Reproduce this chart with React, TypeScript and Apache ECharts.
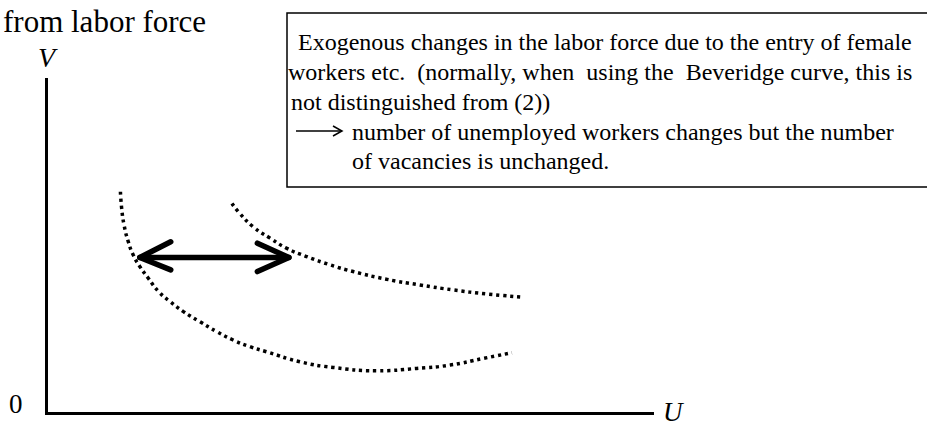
import React, { useEffect, useRef } from "react";
import * as echarts from "echarts";

// Inner Beveridge curve (U, V) in chart units (0-100 on both axes)
const curveInner: [number, number][] = [
  [12.2, 66.4], [12.4, 61.5], [12.8, 56.4], [13.5, 51.4], [14.3, 47.5], [15.4, 44.0],
  [16.8, 40.5], [18.5, 36.5], [20.4, 33.5], [22.6, 30.5], [25.3, 27.5], [28.1, 24.5],
  [30.8, 22.0], [33.6, 20.0], [36.3, 18.5], [41.8, 15.5], [47.3, 13.8], [54.5, 12.8],
  [61.1, 13.5], [66.6, 14.5], [72.1, 16.5], [76.8, 18.2],
];
// Outer (shifted) Beveridge curve
const curveOuter: [number, number][] = [
  [30.6, 62.9], [31.9, 59.9], [34.1, 55.9], [36.9, 52.5], [39.6, 49.5], [42.9, 47.0],
  [46.8, 44.5], [50.6, 42.5], [56.1, 40.2], [61.6, 38.5], [67.1, 37.0], [72.6, 35.8],
  [78.7, 34.8],
];
// Double-headed arrow between the curves
const arrowShaft: [number, number][] = [[15.4, 46.7], [40.0, 46.7]];
const arrowHeadLeft: [number, number][] = [[20.5, 51.4], [15.4, 46.7], [20.5, 43.0]];
const arrowHeadRight: [number, number][] = [[34.8, 51.0], [40.0, 46.7], [34.8, 42.5]];

const titleText = "from labor force";
const yAxisName = "V";
const xAxisName = "U";
const originLabel = "0";
const noteLines = [
  "Exogenous changes in the labor force due to the entry of female",
  "workers etc.  (normally, when  using the  Beveridge curve, this is",
  "not distinguished from (2))",
  "number of unemployed workers changes but the number",
  "of vacancies is unchanged.",
];

const SERIF = '"Liberation Serif", "Times New Roman", serif';

export default function App() {
  const ref = useRef<HTMLDivElement>(null);
  useEffect(() => {
    if (!ref.current) return;
    const chart = echarts.init(ref.current, undefined, { renderer: "svg" });
    const dotted = { color: "#000", width: 3.5, type: [3.2, 3.8] as number[] };
    const arrowStyle = { color: "#000", width: 5.5, cap: "round" as const, join: "round" as const };
    const lineSeries = (data: [number, number][], style: any, smooth: boolean) => ({
      type: "line",
      data,
      smooth,
      showSymbol: false,
      symbol: "none",
      silent: true,
      lineStyle: style,
    });
    const noteX = [298, 288, 291, 352, 352];
    const noteY = [42, 71.5, 101.5, 131.5, 161];
    const noteTexts = noteLines.map((t, i) => ({
      type: "text",
      x: noteX[i],
      y: noteY[i],
      style: {
        text: t,
        font: `24px ${SERIF}`,
        fill: "#000",
        textAlign: "left",
        textVerticalAlign: "middle",
        verticalAlign: "middle",
      },
    }));
    chart.setOption({
      animation: false,
      backgroundColor: "#fff",
      grid: { left: 46.5, top: 79.5, width: 606, height: 334 },
      xAxis: {
        type: "value",
        min: 0,
        max: 100,
        axisLine: { show: true, lineStyle: { color: "#000", width: 3, cap: "square" } },
        axisTick: { show: false },
        axisLabel: { show: false },
        splitLine: { show: false },
      },
      yAxis: {
        type: "value",
        min: 0,
        max: 100,
        axisLine: { show: true, lineStyle: { color: "#000", width: 3, cap: "square" } },
        axisTick: { show: false },
        axisLabel: { show: false },
        splitLine: { show: false },
      },
      series: [
        lineSeries(curveInner, dotted, true),
        lineSeries(curveOuter, dotted, true),
        lineSeries(arrowShaft, arrowStyle, false),
        lineSeries(arrowHeadLeft, arrowStyle, false),
        lineSeries(arrowHeadRight, arrowStyle, false),
      ],
      graphic: [
        {
          type: "text",
          x: 3,
          y: 21.5,
          style: { text: titleText, font: `31px ${SERIF}`, fill: "#000", textAlign: "left", textVerticalAlign: "middle", verticalAlign: "middle" },
        },
        {
          type: "text",
          x: 38,
          y: 57,
          style: { text: yAxisName, font: `italic 28px ${SERIF}`, fill: "#000", textAlign: "left", textVerticalAlign: "middle", verticalAlign: "middle" },
        },
        {
          type: "text",
          x: 9,
          y: 404,
          style: { text: originLabel, font: `27px ${SERIF}`, fill: "#000", textAlign: "left", textVerticalAlign: "middle", verticalAlign: "middle" },
        },
        {
          type: "text",
          x: 663,
          y: 412,
          style: { text: xAxisName, font: `italic 27px ${SERIF}`, fill: "#000", textAlign: "left", textVerticalAlign: "middle", verticalAlign: "middle" },
        },
        {
          type: "rect",
          shape: { x: 287, y: 13, width: 700, height: 174 },
          style: { fill: "none", stroke: "#000", lineWidth: 1.5 },
        },
        {
          type: "line",
          shape: { x1: 296, y1: 131, x2: 342, y2: 131 },
          style: { stroke: "#000", lineWidth: 1.5 },
        },
        {
          type: "polyline",
          shape: { points: [[333, 126], [342, 131], [333, 136]] },
          style: { stroke: "#000", lineWidth: 1.5, fill: "none" },
        },
        ...noteTexts,
      ],
    });
    return () => chart.dispose();
  }, []);
  return (
    <div
      ref={ref}
      style={{ position: "fixed", left: 0, top: 0, width: 927, height: 428, background: "#fff" }}
    />
  );
}
